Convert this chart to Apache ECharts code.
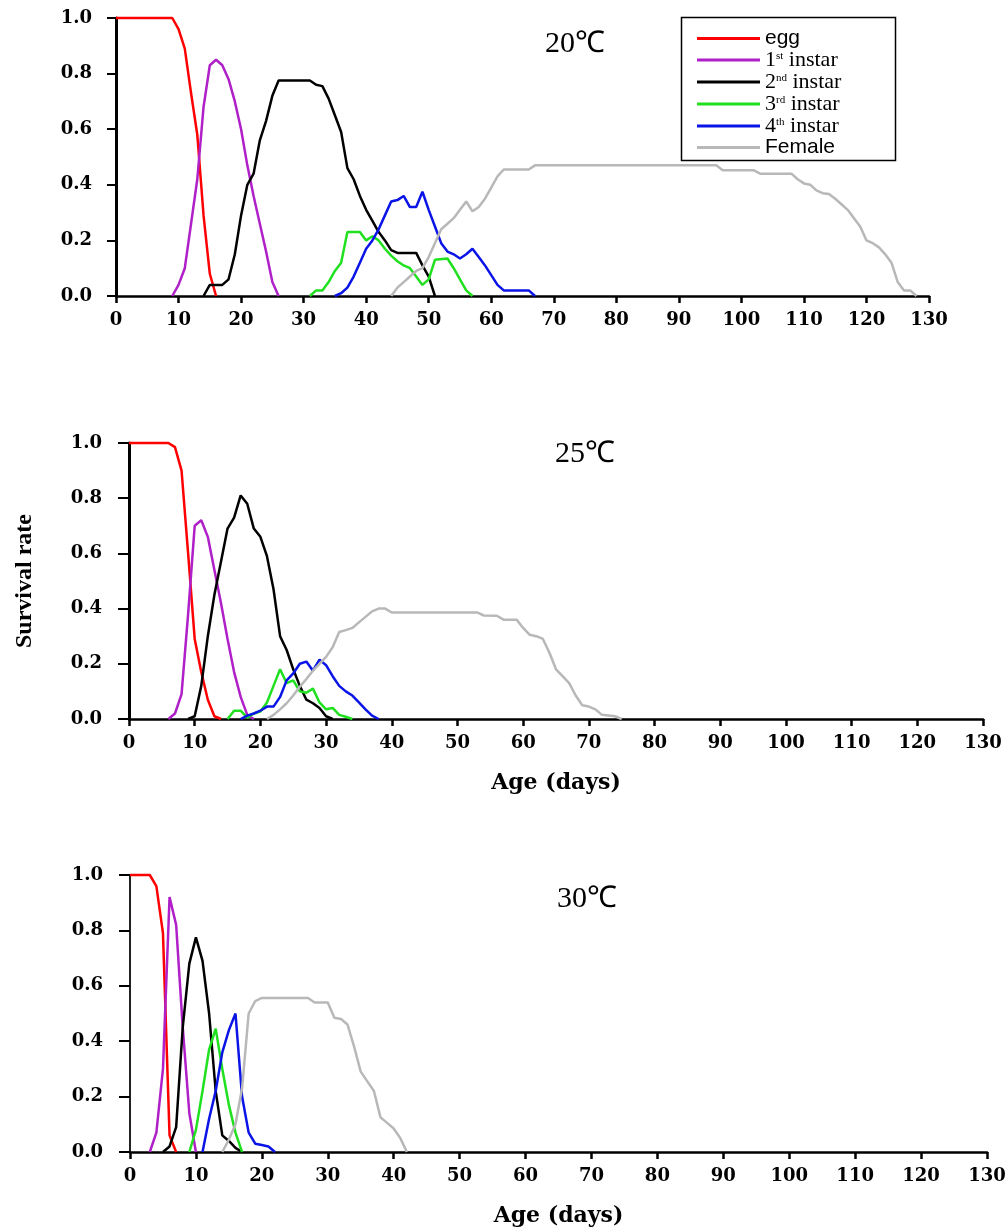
<!DOCTYPE html>
<html>
<head>
<meta charset="utf-8">
<script src="https://cdn.jsdelivr.net/npm/echarts@6/dist/echarts.min.js"></script>
<style>
  html, body { margin: 0; padding: 0; background: #fff; }
  #chart { width: 1008px; height: 1229px; }
</style>
</head>
<body>
<div id="chart"></div>
<script>
const stageNames = ['egg', '1st instar', '2nd instar', '3rd instar', '4th instar', 'Female'];
const tempLabels = ['20℃', '25℃', '30℃'];
const xTicks = [0, 130, 10];   // min, max, step (days)
const yTicks = [0, 1, 0.2];

// 20℃  [day, survival rate]
const egg20 = [[0,1],[9,1],[10,0.96],[11,0.89],[12,0.73],[13,0.58],[14,0.29],[15,0.08],[16,0]];
const first20 = [[9,0],[10,0.04],[11,0.1],[12,0.26],[13,0.42],[14,0.68],[15,0.83],[16,0.85],[17,0.83],[18,0.78],[19,0.7],[20,0.6],[21,0.47],[22,0.36],[23,0.26],[24,0.16],[25,0.05],[26,0]];
const second20 = [[14,0],[15,0.04],[16,0.04],[17,0.04],[18,0.06],[19,0.15],[20,0.29],[21,0.4],[22,0.44],[23,0.56],[24,0.63],[25,0.72],[26,0.775],[31,0.775],[32,0.76],[33,0.755],[34,0.71],[35,0.65],[36,0.59],[37,0.46],[38,0.42],[39,0.36],[40,0.31],[41,0.27],[42,0.23],[43,0.2],[44,0.165],[45,0.155],[48,0.155],[49,0.11],[50,0.07],[51,0]];
const third20 = [[31,0],[32,0.02],[33,0.02],[34,0.05],[35,0.09],[36,0.12],[37,0.23],[39,0.23],[40,0.2],[41,0.215],[42,0.2],[43,0.17],[44,0.145],[45,0.125],[46,0.11],[47,0.1],[48,0.07],[49,0.04],[50,0.06],[51,0.13],[53,0.135],[54,0.1],[55,0.06],[56,0.02],[57,0]];
const fourth20 = [[35,0],[36,0.01],[37,0.03],[38,0.07],[39,0.12],[40,0.17],[41,0.2],[42,0.24],[43,0.29],[44,0.34],[45,0.345],[46,0.36],[47,0.32],[48,0.32],[49,0.375],[50,0.31],[51,0.25],[52,0.19],[53,0.16],[54,0.15],[55,0.135],[56,0.15],[57,0.17],[58,0.14],[59,0.11],[60,0.075],[61,0.04],[62,0.02],[66,0.02],[67,0]];
const female20 = [[44,0],[45,0.03],[46,0.05],[47,0.07],[48,0.09],[49,0.1],[50,0.14],[51,0.19],[52,0.24],[53,0.26],[54,0.28],[55,0.31],[56,0.34],[57,0.305],[58,0.32],[59,0.35],[60,0.39],[61,0.43],[62,0.455],[66,0.455],[67,0.47],[96,0.47],[97,0.452],[102,0.452],[103,0.44],[108,0.44],[109,0.42],[110,0.405],[111,0.4],[112,0.38],[113,0.37],[114,0.367],[115,0.35],[116,0.33],[117,0.31],[118,0.28],[119,0.25],[120,0.2],[121,0.19],[122,0.175],[123,0.15],[124,0.12],[125,0.05],[126,0.02],[127,0.02],[128,0]];

// 25℃
const egg25 = [[0,1],[6,1],[7,0.985],[8,0.9],[9,0.6],[10,0.29],[11,0.17],[12,0.07],[13,0.01],[14,0]];
const first25 = [[6,0],[7,0.02],[8,0.09],[9,0.38],[10,0.7],[11,0.72],[12,0.66],[13,0.54],[14,0.42],[15,0.29],[16,0.17],[17,0.08],[18,0.015],[19,0]];
const second25 = [[9,0],[10,0.01],[11,0.12],[12,0.3],[13,0.45],[14,0.57],[15,0.69],[16,0.73],[17,0.81],[18,0.78],[19,0.69],[20,0.66],[21,0.59],[22,0.47],[23,0.3],[24,0.25],[25,0.18],[26,0.12],[27,0.07],[28,0.057],[29,0.04],[30,0.01],[31,0]];
const third25 = [[15,0],[16,0.03],[17,0.03],[18,0.005],[19,0.02],[20,0.027],[21,0.06],[22,0.12],[23,0.18],[24,0.13],[25,0.14],[26,0.1],[27,0.095],[28,0.11],[29,0.06],[30,0.035],[31,0.04],[32,0.015],[33,0.008],[34,0]];
const fourth25 = [[17,0],[18,0.012],[19,0.02],[20,0.03],[21,0.045],[22,0.045],[23,0.08],[24,0.14],[25,0.165],[26,0.2],[27,0.208],[28,0.175],[29,0.215],[30,0.195],[31,0.155],[32,0.12],[33,0.1],[34,0.085],[35,0.06],[36,0.035],[37,0.012],[38,0]];
const female25 = [[21,0],[22,0.015],[23,0.035],[24,0.057],[25,0.085],[26,0.117],[27,0.145],[28,0.175],[29,0.2],[30,0.225],[31,0.26],[32,0.315],[33,0.322],[34,0.33],[35,0.35],[36,0.37],[37,0.39],[38,0.4],[39,0.4],[40,0.386],[53,0.386],[54,0.375],[56,0.374],[57,0.36],[59,0.36],[60,0.33],[61,0.305],[62,0.3],[63,0.29],[64,0.24],[65,0.18],[66,0.155],[67,0.13],[68,0.085],[69,0.05],[70,0.045],[71,0.035],[72,0.015],[74,0.01],[75,0]];

// 30℃
const egg30 = [[0,1],[3,1],[4,0.96],[5,0.79],[6,0.06],[7,0]];
const first30 = [[3,0],[4,0.07],[5,0.3],[6,0.92],[7,0.82],[8,0.45],[9,0.14],[10,0]];
const second30 = [[5,0],[6,0.02],[7,0.09],[8,0.45],[9,0.68],[10,0.775],[11,0.69],[12,0.5],[13,0.22],[14,0.06],[15,0.04],[16,0.015],[17,0]];
const third30 = [[9,0],[10,0.08],[11,0.22],[12,0.37],[13,0.445],[14,0.3],[15,0.17],[16,0.07],[17,0]];
const fourth30 = [[11,0],[12,0.12],[13,0.22],[14,0.36],[15,0.44],[16,0.5],[17,0.2],[18,0.07],[19,0.03],[20,0.025],[21,0.02],[22,0]];
const female30 = [[14,0],[15,0.045],[16,0.1],[17,0.23],[18,0.5],[19,0.545],[20,0.556],[27,0.556],[28,0.54],[30,0.54],[31,0.485],[32,0.48],[33,0.46],[34,0.38],[35,0.29],[36,0.255],[37,0.22],[38,0.125],[39,0.105],[40,0.085],[41,0.05],[42,0]];

const panels = [
  [egg20, first20, second20, third20, fourth20, female20],
  [egg25, first25, second25, third25, fourth25, female25],
  [egg30, first30, second30, third30, fourth30, female30]
];

const colors = ['#ff0000', '#b020c8', '#000000', '#20e020', '#0a14e6', '#b8b8b8'];

const chart = echarts.init(document.getElementById('chart'));

const grids = [
  { left: 116, top: 18, width: 813, height: 278 },
  { left: 129, top: 443, width: 854, height: 276 },
  { left: 130, top: 875, width: 857, height: 277 }
];

const labelFont = { fontFamily: 'DejaVu Serif', fontWeight: 'bold', fontSize: 18, color: '#000' };
const titleFont = { fontFamily: 'DejaVu Serif', fontWeight: 'bold', fontSize: 22, color: '#000' };

const xAxes = grids.map((g, i) => ({
  type: 'value',
  gridIndex: i,
  min: xTicks[0],
  max: xTicks[1],
  interval: xTicks[2],
  name: i > 0 ? 'Age (days)' : '',
  nameLocation: 'middle',
  nameGap: 53,
  nameTextStyle: titleFont,
  axisLine: { show: true, onZero: false, lineStyle: { color: '#000', width: 2.5 } },
  axisTick: { show: true, length: 7, lineStyle: { color: '#000', width: 2.5 } },
  axisLabel: Object.assign({ margin: 15 }, labelFont),
  splitLine: { show: false }
}));

const yAxes = grids.map((g, i) => ({
  type: 'value',
  gridIndex: i,
  min: yTicks[0],
  max: yTicks[1],
  interval: yTicks[2],
  name: i === 1 ? 'Survival rate' : '',
  nameLocation: 'middle',
  nameGap: 92,
  nameRotate: 90,
  nameTextStyle: { fontFamily: 'Liberation Serif', fontWeight: 'bold', fontSize: 24, color: '#000' },
  axisLine: { show: true, lineStyle: { color: i === 2 ? '#222' : '#000', width: i === 2 ? 2 : 3 } },
  axisTick: { show: true, length: i === 0 ? 9 : 11, lineStyle: { color: '#000', width: 2 } },
  axisLabel: Object.assign({ margin: i === 0 ? 24 : 27, formatter: v => v.toFixed(1) }, labelFont),
  splitLine: { show: false }
}));

const series = [];
panels.forEach((stages, p) => {
  stages.forEach((data, s) => {
    series.push({
      name: stageNames[s],
      type: 'line',
      xAxisIndex: p,
      yAxisIndex: p,
      data: data,
      symbol: 'none',
      clip: false,
      lineStyle: { color: colors[s], width: 2.5 },
      itemStyle: { color: colors[s] }
    });
  });
});

const tempPos = [[545, 29], [555, 439], [557, 884]];

const option = {
  animation: false,
  grid: grids.map(g => Object.assign({ outerBoundsMode: 'none' }, g)),
  xAxis: xAxes,
  yAxis: yAxes,
  legend: {
    orient: 'vertical',
    left: 679,
    top: 15,
    padding: [13, 0, 0, 18],
    icon: 'rect',
    itemWidth: 63,
    itemHeight: 3,
    itemGap: 0,
    itemTextGap: 15,
    selectedMode: false,
    data: stageNames,
    formatter: name => {
      if (name === 'egg' || name === 'Female') return '{sans|' + name + '}';
      const sp = name.indexOf(' ');
      return '{ser|' + name[0] + '}{sup|' + name.slice(1, sp) + '}{ser| instar}';
    },
    textStyle: {
      color: '#000',
      rich: {
        sans: { fontFamily: 'Liberation Sans', fontSize: 21, lineHeight: 19.5, color: '#000' },
        ser: { fontFamily: 'Liberation Serif', fontSize: 22, lineHeight: 19.5, color: '#000' },
        sup: { fontFamily: 'Liberation Serif', fontSize: 11, lineHeight: 19.5, verticalAlign: 'top', color: '#000' }
      }
    }
  },
  graphic: [
    {
      type: 'rect',
      left: 679,
      top: 15,
      shape: { width: 214, height: 143 },
      style: { fill: 'none', stroke: '#000', lineWidth: 1.5 }
    }
  ].concat(tempLabels.map((t, i) => ({
    type: 'text',
    left: tempPos[i][0],
    top: tempPos[i][1],
    style: { text: t, font: 'normal 30px "Liberation Serif"', fill: '#000' }
  }))),
  series: series
};

chart.setOption(option);
window.addEventListener('resize', () => chart.resize());
</script>
</body>
</html>
